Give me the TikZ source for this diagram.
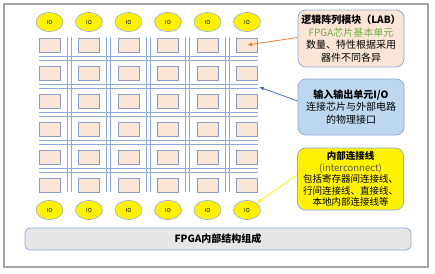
\documentclass[tikz,border=0pt]{standalone}
\usepackage{fontspec}
\newfontfamily\cjk{Noto Sans CJK SC}
\usepackage{tikz}
\usetikzlibrary{positioning,arrows.meta,shapes.geometric}
\definecolor{labFill}{HTML}{FBE5D6}
\definecolor{edgeBlue}{HTML}{8FAADC}
\definecolor{cellEdge}{HTML}{8C9CC4}
\definecolor{wireBlue}{HTML}{8EA9DB}
\definecolor{ioFill}{HTML}{BDD7EE}
\definecolor{barFill}{HTML}{E7E6E6}
\definecolor{frameGray}{HTML}{A5A5A5}
\definecolor{arrOrange}{HTML}{ED7D31}
\definecolor{arrBlue}{HTML}{4472C4}
\definecolor{textGreen}{HTML}{70AD47}
\tikzset{every node/.style={font=\cjk\small}}

\begin{document}
\begin{tikzpicture}[
  x=1pt, y=-1pt,
  labbox/.style={
    draw=cellEdge,
    fill=labFill,
    line width=0.7pt,
    minimum width=21pt,
    minimum height=14pt,
    inner sep=0pt
  },
  iopad/.style={
    ellipse,
    draw=edgeBlue,
    fill=yellow,
    line width=0.6pt,
    minimum width=27pt,
    minimum height=19pt,
    inner sep=0pt,
    font=\cjk\fontsize{5.5}{6}\selectfont
  },
  wire/.style={draw=wireBlue, line width=0.6pt},
  infobox/.style={
    draw=edgeBlue,
    rounded corners=8pt,
    line width=0.8pt,
    align=center,
    text width=104pt,
    inner sep=1pt,
    font=\cjk\fontsize{10}{12.5}\selectfont
  },
  callout/.style={-{Latex[length=5pt,width=4pt]}, line width=0.8pt}
]

\useasboundingbox (0,0) rectangle (435,273);
\draw[frameGray, line width=1.3pt] (4,4) rectangle (428,267);

% routing wires
\foreach \c in {1,...,5} {
  \draw[wire] ({27.75+39.5*\c}, 37) -- ({27.75+39.5*\c}, 192);
  \draw[wire] ({31.75+39.5*\c}, 37) -- ({31.75+39.5*\c}, 192);
}
\foreach \r in {1,...,5} {
  \draw[wire] (39, {28+28*\r}) -- (258, {28+28*\r});
  \draw[wire] (39, {32+28*\r}) -- (258, {32+28*\r});
}
\coordinate (wireEnd) at (259,87);

% LAB array and IO pads
\foreach \c in {1,...,6} {
  \node (ioTop\c) [iopad] at ({10+39.5*\c}, 22) {IO};
  \node (ioBot\c) [iopad] at ({10+39.5*\c}, 210) {IO};
  \foreach \r in {1,...,6}
    \node (lab\r\c) [labbox] at ({10+39.5*\c}, {17+28*\r}) {};
}

\node (labInfo) [infobox, fill=labFill, minimum height=57pt] at (351,38.5)
{\textbf{逻辑阵列模块（LAB）}\\
\textcolor{textGreen}{FPGA芯片基本单元}\\
数量、特性根据采用\\
器件不同各异};

\node (ioInfo) [infobox, fill=ioFill, minimum height=56pt] at (351,107)
{\textbf{输入输出单元I/O}\\
连接芯片与外部电路\\
的物理接口};

\node (wireInfo) [infobox, fill=yellow, minimum height=62pt,
  font=\cjk\fontsize{9.5}{11.5}\selectfont] at (350.5,179)
{\textbf{内部连接线}\\
\textcolor{black!65}{(interconnect)}\\
包括寄存器间连接线、\\
行间连接线、直接线、\\
本地内部连接线等};

\node (title) [draw=edgeBlue, fill=barFill, rounded corners=5pt,
  line width=0.8pt, minimum width=386pt, minimum height=22pt,
  font=\cjk\bfseries\fontsize{10}{12}\selectfont] at (218,239)
{FPGA内部结构组成};

\draw[callout, arrOrange] ([yshift=1pt]labInfo.west) -- (lab16.center);
\draw[callout, arrBlue] ([yshift=6pt]ioInfo.west) -- (wireEnd);
\draw[callout, yellow] ([yshift=4pt]wireInfo.west) -- (ioBot6.north east);

\end{tikzpicture}
\end{document}
